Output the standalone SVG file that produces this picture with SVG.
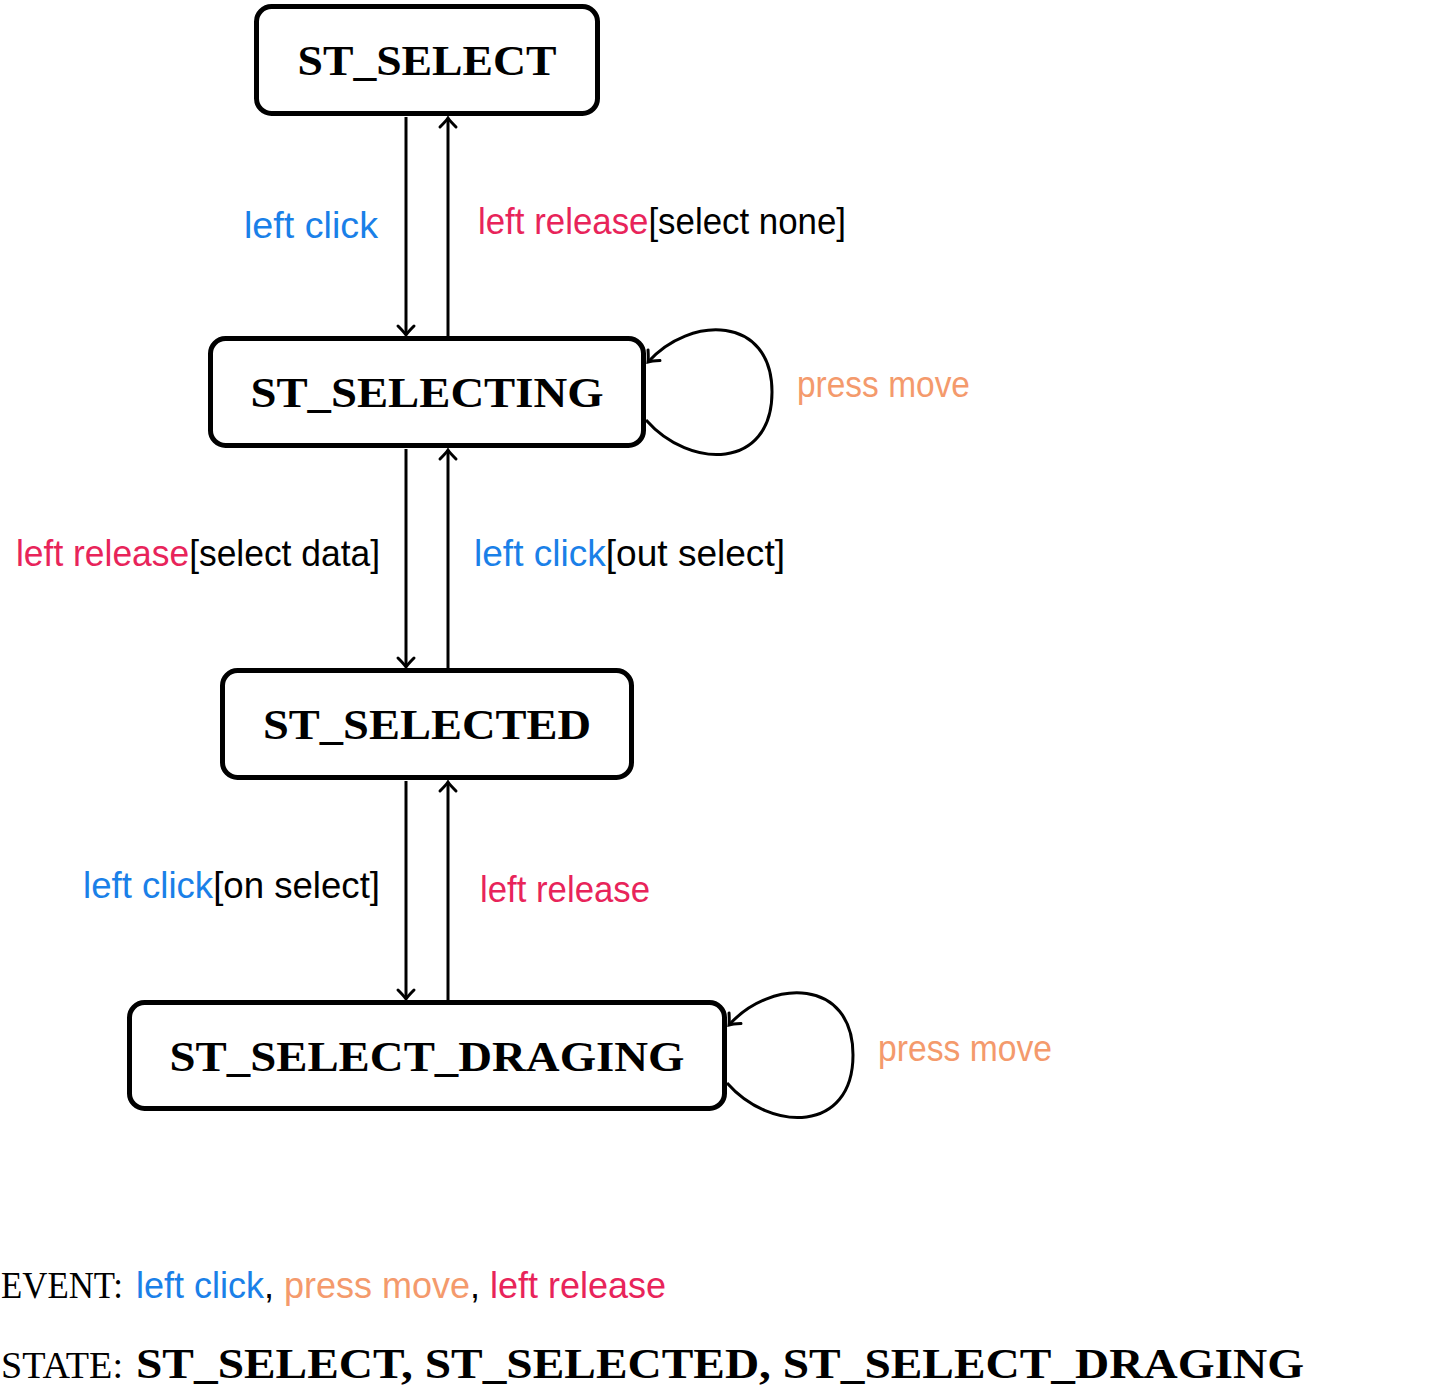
<svg xmlns="http://www.w3.org/2000/svg" width="1436" height="1389" viewBox="0 0 1436 1389">
<defs>
<style>
.node{fill:#fff;stroke:#000;stroke-width:5}
.nl{font-family:"Liberation Serif",serif;font-weight:bold;font-size:42px;fill:#000;text-anchor:middle}
.edge{fill:none;stroke:#000;stroke-width:3;marker-end:url(#ah)}
.lb{font-family:"Liberation Sans",sans-serif;font-size:36px;fill:#000}
.mono{font-family:"Liberation Serif","Liberation Mono",serif;font-size:37px;fill:#000}
.bl{fill:#1a80e8}
.rd{fill:#e8245a}
.or{fill:#f49a6c}
</style>
<marker id="ah" markerUnits="userSpaceOnUse" markerWidth="24" markerHeight="24" viewBox="-12 -12 16 24" refX="0" refY="0" orient="auto">
<path d="M-9,-8 Q-3,-2 0,0 Q-3,2 -9,8" fill="none" stroke="#000" stroke-width="3" stroke-linecap="round"/>
</marker>
</defs>
<rect width="1436" height="1389" fill="#fff"/>
<g id="connectors">
<line class="edge" x1="406" y1="117" x2="406" y2="335"/>
<line class="edge" x1="448" y1="336" x2="448" y2="118"/>
<line class="edge" x1="406" y1="449" x2="406" y2="667"/>
<line class="edge" x1="448" y1="668" x2="448" y2="450"/>
<line class="edge" x1="406" y1="781" x2="406" y2="999"/>
<line class="edge" x1="448" y1="1000" x2="448" y2="782"/>
<path class="edge" d="M646,420 C690,470 772,470 772,392 C772,315 690,315 648,362"/>
<path class="edge" d="M727,1083 C771,1133 853,1133 853,1055 C853,978 771,978 729,1025"/>
</g>
<g id="labels">
<text class="lb bl" x="244" y="238" textLength="134" lengthAdjust="spacingAndGlyphs">left click</text>
<text class="lb" x="478" y="234" textLength="368" lengthAdjust="spacingAndGlyphs"><tspan class="rd">left release</tspan>[select none]</text>
<text class="lb or" x="797" y="397" textLength="173" lengthAdjust="spacingAndGlyphs">press move</text>
<text class="lb" x="16" y="566" textLength="364" lengthAdjust="spacingAndGlyphs"><tspan class="rd">left release</tspan>[select data]</text>
<text class="lb" x="474" y="566" textLength="311" lengthAdjust="spacingAndGlyphs"><tspan class="bl">left click</tspan>[out select]</text>
<text class="lb" x="83" y="898" textLength="297" lengthAdjust="spacingAndGlyphs"><tspan class="bl">left click</tspan>[on select]</text>
<text class="lb rd" x="480" y="902" textLength="170" lengthAdjust="spacingAndGlyphs">left release</text>
<text class="lb or" x="878" y="1061" textLength="174" lengthAdjust="spacingAndGlyphs">press move</text>
</g>
<g id="n1">
<rect class="node" x="256.5" y="6.5" width="341" height="107" rx="15"/>
<text class="nl" x="427" y="75" textLength="259" lengthAdjust="spacingAndGlyphs">ST_SELECT</text>
</g>
<g id="n2">
<rect class="node" x="210.5" y="338.5" width="433" height="107" rx="15"/>
<text class="nl" x="427" y="407" textLength="353" lengthAdjust="spacingAndGlyphs">ST_SELECTING</text>
</g>
<g id="n3">
<rect class="node" x="222.5" y="670.5" width="409" height="107" rx="15"/>
<text class="nl" x="427" y="739" textLength="328" lengthAdjust="spacingAndGlyphs">ST_SELECTED</text>
</g>
<g id="n4">
<rect class="node" x="129.5" y="1002.5" width="595" height="106" rx="15"/>
<text class="nl" x="427" y="1071" textLength="515" lengthAdjust="spacingAndGlyphs">ST_SELECT_DRAGING</text>
</g>
<g id="legend">
<text class="mono" x="1" y="1298" textLength="122" lengthAdjust="spacingAndGlyphs">EVENT:</text>
<text class="lb" x="136" y="1298" textLength="530" lengthAdjust="spacingAndGlyphs"><tspan class="bl">left click</tspan>, <tspan class="or">press move</tspan>, <tspan class="rd">left release</tspan></text>
<text class="mono" x="1" y="1378" textLength="122" lengthAdjust="spacingAndGlyphs">STATE:</text>
<text class="nl" x="136" y="1378" style="text-anchor:start" textLength="1168" lengthAdjust="spacingAndGlyphs">ST_SELECT, ST_SELECTED, ST_SELECT_DRAGING</text>
</g>
</svg>
